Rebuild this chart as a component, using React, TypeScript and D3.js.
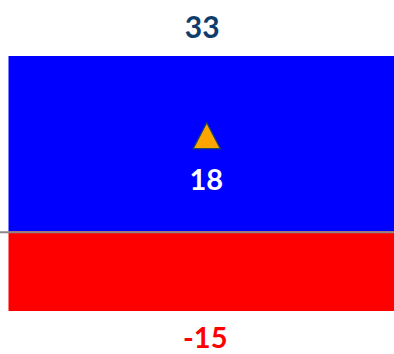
import React from "react";
import * as d3 from "d3";

const categories = ["Total"];
const positiveValues = [33];
const negativeValues = [-15];
const netValues = [18];

const W = 394;
const H = 354;

function trianglePath(cx: number, cy: number, w: number, h: number) {
  const p = d3.path();
  p.moveTo(cx, cy - h / 2);
  p.lineTo(cx + w / 2, cy + h / 2);
  p.lineTo(cx - w / 2, cy + h / 2);
  p.closePath();
  return p.toString();
}

export default function App() {
  const x = d3.scaleBand<string>().domain(categories).range([8.5, 402]).padding(0);
  const y = d3.scaleLinear().domain([-15, 33]).range([311, 56]);
  const font = "Lato, 'Open Sans', sans-serif";
  return (
    <svg
      width={W}
      height={H}
      style={{ position: "absolute", left: 0, top: 0, display: "block" }}
    >
      {categories.map((c, i) => {
        const x0 = x(c)!;
        const bw = x.bandwidth();
        const cx = x0 + bw / 2;
        const pos = positiveValues[i];
        const neg = negativeValues[i];
        const net = netValues[i];
        return (
          <g key={c}>
            <rect x={x0} y={y(pos)} width={bw} height={y(0) - y(pos)} fill="#0000ff" />
            <rect x={x0} y={y(0)} width={bw} height={y(neg) - y(0)} fill="#ff0000" />
            <line x1={0} x2={W} y1={y(0) + 1} y2={y(0) + 1} stroke="#888888" strokeWidth={2} />
            <path
              d={trianglePath(cx + 1.5, y(net), 27, 26)}
              fill="#ffa500"
              stroke="#1f4a5a"
              strokeWidth={1.2}
              strokeLinejoin="miter"
            />
            <text
              x={cx - 3}
              y={y(pos) - 18}
              textAnchor="middle"
              fontFamily={font}
              fontWeight="bold"
              fontSize={30}
              fill="#0f3d6b"
            >
              {pos}
            </text>
            <text
              x={cx + 1}
              y={y(net) + 54}
              textAnchor="middle"
              fontFamily={font}
              fontWeight="bold"
              fontSize={29}
              fill="#ffffff"
            >
              {net}
            </text>
            <text
              x={cx}
              y={y(neg) + 37}
              textAnchor="middle"
              fontFamily={font}
              fontWeight="bold"
              fontSize={29}
              fill="#ff0000"
            >
              {neg}
            </text>
          </g>
        );
      })}
    </svg>
  );
}
